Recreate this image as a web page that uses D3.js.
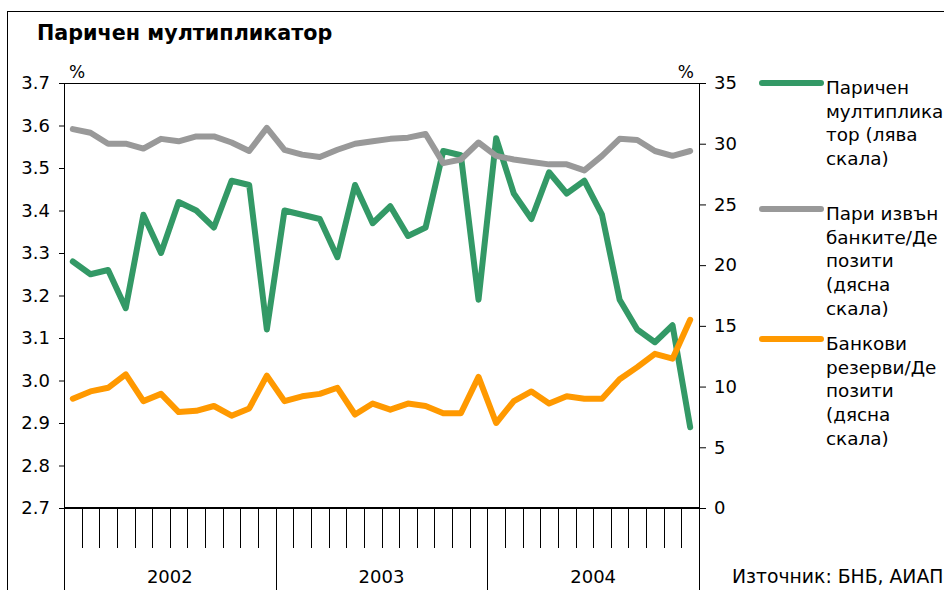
<!DOCTYPE html>
<html>
<head>
<meta charset="utf-8">
<script src="https://cdn.jsdelivr.net/npm/d3@7"></script>
<style>
  body { margin: 0; background: #fff; }
  svg text { font-family: "DejaVu Sans", Verdana, sans-serif; fill: #000; }
</style>
</head>
<body>
<div id="chart"></div>
<script>
const years = ["2002", "2003", "2004"];
const months = d3.range(36).map(i => years[Math.floor(i / 12)] + "-" + (i % 12 + 1));

// паричен мултипликатор (лява скала)
const multiplier = [3.28, 3.25, 3.26, 3.17, 3.39, 3.30, 3.42, 3.40, 3.36, 3.47, 3.46, 3.12,
                    3.40, 3.39, 3.38, 3.29, 3.46, 3.37, 3.41, 3.34, 3.36, 3.54, 3.53, 3.19,
                    3.57, 3.44, 3.38, 3.49, 3.44, 3.47, 3.39, 3.19, 3.12, 3.09, 3.13, 2.89];
// пари извън банките / депозити (дясна скала)
const cashRatio = [31.2, 30.9, 30.0, 30.0, 29.6, 30.4, 30.2, 30.6, 30.6, 30.1, 29.4, 31.3,
                   29.5, 29.1, 28.9, 29.5, 30.0, 30.2, 30.4, 30.5, 30.8, 28.4, 28.7, 30.1,
                   29.0, 28.7, 28.5, 28.3, 28.3, 27.8, 29.0, 30.4, 30.3, 29.4, 29.0, 29.4];
// банкови резерви / депозити (дясна скала)
const reserveRatio = [9.0, 9.6, 9.9, 11.0, 8.8, 9.4, 7.9, 8.0, 8.4, 7.6, 8.2, 10.9,
                      8.8, 9.2, 9.4, 9.9, 7.7, 8.6, 8.1, 8.6, 8.4, 7.8, 7.8, 10.8,
                      7.0, 8.8, 9.6, 8.6, 9.2, 9.0, 9.0, 10.6, 11.6, 12.7, 12.3, 15.5];

const leftTicks = d3.range(27, 38).map(d => d / 10);
const rightTicks = d3.range(0, 40, 5);

const series = [
  {values: multiplier, axis: "left", color: "#339966",
   label: ["Паричен", "мултиплика", "тор (лява", "скала)"]},
  {values: cashRatio, axis: "right", color: "#999999",
   label: ["Пари извън", "банките/Де", "позити", "(дясна", "скала)"]},
  {values: reserveRatio, axis: "right", color: "#FF9900",
   label: ["Банкови", "резерви/Де", "позити", "(дясна", "скала)"]}
];

const width = 944, height = 590;
const plot = {left: 64, right: 699, top: 83, bottom: 508};

const svg = d3.select("#chart").append("svg")
  .attr("width", width)
  .attr("height", height);

// outer frame
svg.append("rect")
  .attr("x", 7.5).attr("y", 11.5)
  .attr("width", width + 10).attr("height", height + 10)
  .attr("fill", "none").attr("stroke", "#000").attr("stroke-width", 1);

svg.append("text")
  .attr("x", 37).attr("y", 40)
  .attr("font-size", "20.7px")
  .attr("font-weight", "bold")
  .text("Паричен мултипликатор");

const x = d3.scaleBand().domain(months).range([plot.left, plot.right]);
const yL = d3.scaleLinear().domain([2.7, 3.7]).range([plot.bottom, plot.top]);
const yR = d3.scaleLinear().domain([0, 35]).range([plot.bottom, plot.top]);

// left axis
const gL = svg.append("g")
  .attr("transform", `translate(${plot.left},0)`)
  .call(d3.axisLeft(yL).tickValues(leftTicks).tickFormat(d3.format(".1f"))
    .tickSize(5).tickSizeOuter(0).tickPadding(9));
// right axis
const gR = svg.append("g")
  .attr("transform", `translate(${plot.right},0)`)
  .call(d3.axisRight(yR).tickValues(rightTicks)
    .tickSize(7).tickSizeOuter(0).tickPadding(8));

[gL, gR].forEach(g => {
  g.select(".domain").remove();
  g.selectAll("text").attr("font-size", "18px").attr("font-family", "DejaVu Sans");
});

// plot frame and long vertical lines
svg.append("line")
  .attr("x1", plot.left).attr("x2", plot.right)
  .attr("y1", plot.top + 0.5).attr("y2", plot.top + 0.5)
  .attr("stroke", "#000");
svg.append("line")
  .attr("x1", plot.left + 0.5).attr("x2", plot.left + 0.5)
  .attr("y1", plot.top).attr("y2", height)
  .attr("stroke", "#000");
svg.append("line")
  .attr("x1", plot.right + 0.5).attr("x2", plot.right + 0.5)
  .attr("y1", plot.top).attr("y2", height)
  .attr("stroke", "#000");

// month ticks and year separators
const boundaries = months.slice(1).map(m => x(m));
svg.append("g").selectAll("line")
  .data(boundaries)
  .enter().append("line")
    .attr("x1", d => Math.round(d) + 0.5)
    .attr("x2", d => Math.round(d) + 0.5)
    .attr("y1", plot.bottom)
    .attr("y2", (d, i) => (i + 1) % 12 === 0 ? height : 548)
    .attr("stroke", "#000");

svg.append("line")
  .attr("x1", plot.left).attr("x2", plot.right)
  .attr("y1", plot.bottom).attr("y2", plot.bottom)
  .attr("stroke", "#000").attr("stroke-width", 2);

svg.append("g").selectAll("text")
  .data(years)
  .enter().append("text")
    .attr("x", (d, i) => (x(months[i * 12]) + x(months[i * 12 + 11]) + x.bandwidth()) / 2)
    .attr("y", 583)
    .attr("text-anchor", "middle")
    .attr("font-size", "18px")
    .text(d => d);

// unit labels
svg.append("text").attr("x", 69).attr("y", 78).attr("font-size", "17px").text("%");
svg.append("text").attr("x", 694).attr("y", 78).attr("text-anchor", "end").attr("font-size", "17px").text("%");

// lines
series.forEach(s => {
  const y = s.axis === "left" ? yL : yR;
  const line = d3.line()
    .x((d, i) => x(months[i]) + x.bandwidth() / 2)
    .y(d => y(d));
  svg.append("path")
    .datum(s.values)
    .attr("d", line)
    .attr("fill", "none")
    .attr("stroke", s.color)
    .attr("stroke-width", 6)
    .attr("stroke-linejoin", "round")
    .attr("stroke-linecap", "round");
});

// legend
const legendY = [83, 209, 339];
const legend = svg.append("g");
series.forEach((s, i) => {
  const gy = legendY[i];
  legend.append("line")
    .attr("x1", 762).attr("x2", 821)
    .attr("y1", gy).attr("y2", gy)
    .attr("stroke", s.color)
    .attr("stroke-width", 6)
    .attr("stroke-linecap", "round");
  s.label.forEach((t, j) => {
    legend.append("text")
      .attr("x", 826)
      .attr("y", gy + 11 + j * 23.7)
      .attr("font-size", "18.4px")
      .text(t);
  });
});

svg.append("text")
  .attr("x", 732).attr("y", 583)
  .attr("font-size", "18.8px")
  .text("Източник: БНБ, АИАП");
</script>
</body>
</html>
